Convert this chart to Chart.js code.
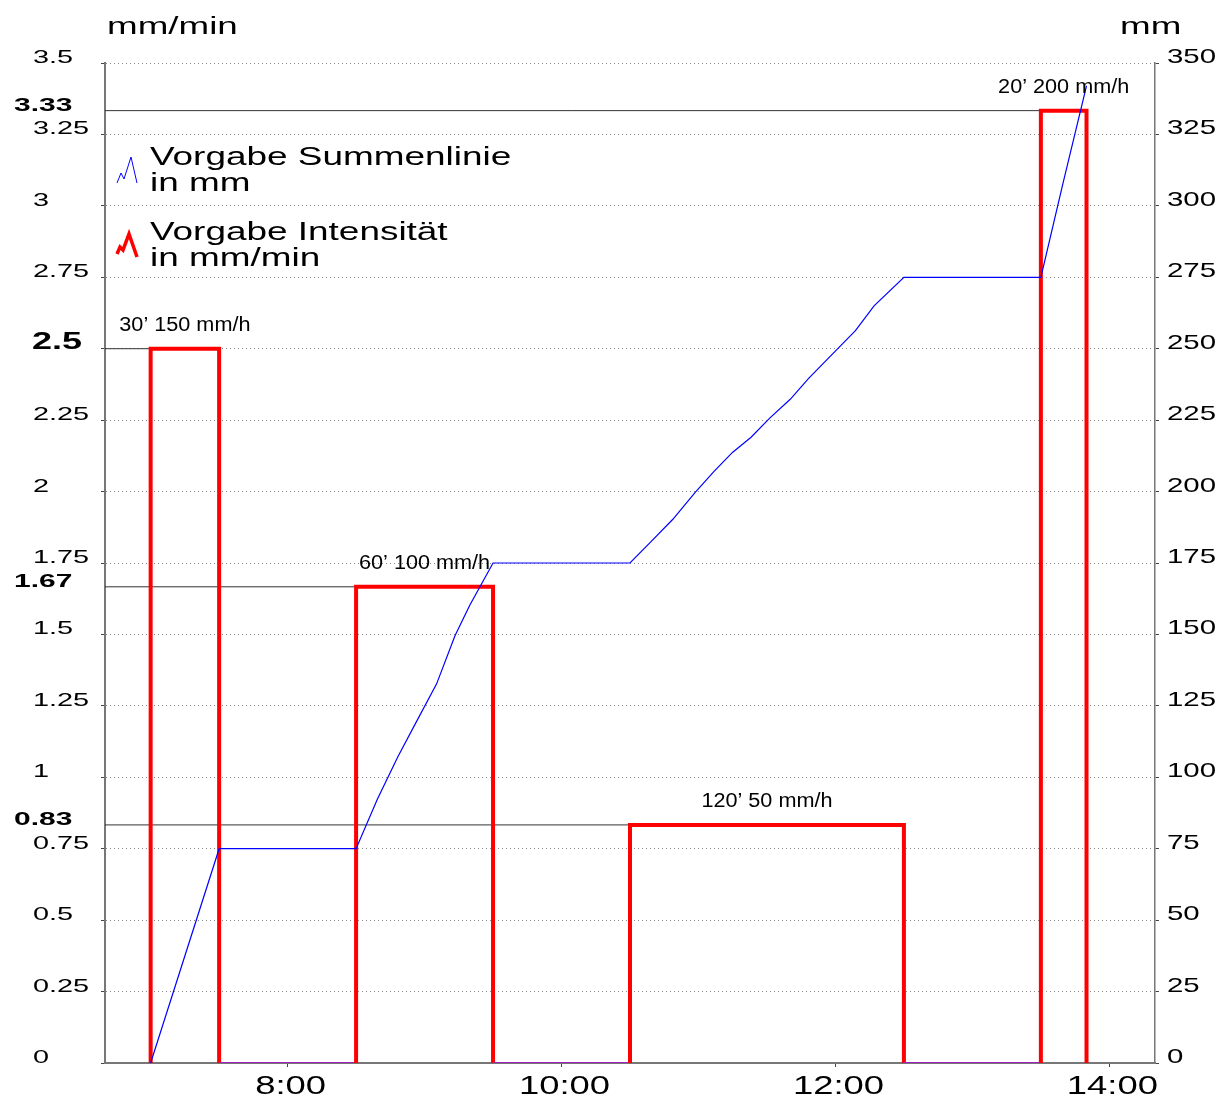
<!DOCTYPE html>
<html>
<head>
<meta charset="utf-8">
<script src="https://cdn.jsdelivr.net/npm/chart.js@4/dist/chart.umd.min.js"></script>
<style>
  html, body { margin: 0; padding: 0; background: #fff; }
  #wrap { width: 1228px; height: 1098px; }
</style>
</head>
<body>
<div id="wrap"><canvas id="c"></canvas></div>
<script>
// Rain program: blocks of constant intensity (mm/min) and cumulative sum (mm)
const blockStart = [7, 8.5, 10.5, 13.5];          // hours
const blockEnd = [7.5, 9.5, 12.5, 13.8333];
const blockLevel = [2.5, 1.6667, 0.8333, 3.3333]; // mm/min
const blockLabels = ['30\u2019 150 mm/h', '60\u2019 100 mm/h', '120\u2019 50 mm/h', '20\u2019 200 mm/h'];
const levelLabels = ['2.5', '1.67', '0.83', '3.33'];

// cumulative line
const sumTime = [7, 7.5, 8.5, 8.656, 8.805, 8.939, 9.088, 9.222, 9.33, 9.5,
  10.5, 10.65, 10.813, 10.976, 11.112, 11.248, 11.384, 11.52, 11.67, 11.806, 12.01, 12.146, 12.282, 12.5,
  13.5, 13.657, 13.8333];
const sumMm = [0, 75, 75, 92.4, 107.2, 119.3, 132.7, 149.5, 160.2, 175,
  175, 182.3, 190.3, 199.7, 207, 213.7, 219, 225.7, 232.3, 239.7, 249.7, 256.3, 265, 275,
  275, 307, 342];

const xTicks = [8, 10, 12, 14];
const xMin = 6 + 40 / 60, xMax = 14 + 20 / 60;

const FONT = '"Liberation Sans", Arial, sans-serif';

// step line for the intensity
const stepData = [];
blockStart.forEach((s, i) => {
  stepData.push({x: s, y: 0}, {x: s, y: blockLevel[i]}, {x: blockEnd[i], y: blockLevel[i]}, {x: blockEnd[i], y: 0});
});

const refSets = blockLevel.map((lv, i) => ({
  data: [{x: xMin, y: lv}, {x: blockStart[i], y: lv}],
  yAxisID: 'yL',
  borderColor: '#333',
  borderWidth: 1,
  pointRadius: 0,
  order: 2
}));

function drawText(ctx, text, x, y, size, sx, align, bold) {
  ctx.save();
  ctx.font = (bold ? 'bold ' : '') + size + 'px ' + FONT;
  ctx.textAlign = 'left';
  ctx.textBaseline = 'alphabetic';
  ctx.fillStyle = '#000';
  const w = ctx.measureText(text).width * sx;
  let x0 = x;
  if (align === 'center') x0 = x - w / 2;
  else if (align === 'right') x0 = x - w;
  ctx.translate(x0, y);
  ctx.scale(sx, 1);
  ctx.fillText(text, 0, 0);
  ctx.restore();
}

function polyline(ctx, pts, color, width) {
  ctx.save();
  ctx.strokeStyle = color;
  ctx.lineWidth = width;
  ctx.beginPath();
  pts.forEach((p, i) => i ? ctx.lineTo(p[0], p[1]) : ctx.moveTo(p[0], p[1]));
  ctx.stroke();
  ctx.restore();
}

const textPlugin = {
  id: 'texts',
  afterDraw(chart) {
    const {ctx, scales} = chart;
    const x = scales.x, yL = scales.yL, yR = scales.yR;

    // axis titles
    drawText(ctx, 'mm/min', 107, 34, 23, 1.6, 'left');
    drawText(ctx, 'mm', 1120, 34, 23, 1.6, 'left');

    // tick labels (the bold level labels replace a matching tick)
    yL.ticks.forEach(t => {
      const s = String(t.value);
      if (levelLabels.includes(s)) return;
      drawText(ctx, s, 33, yL.getPixelForValue(t.value), 18.5, 1.56, 'left');
    });
    yR.ticks.forEach(t => {
      drawText(ctx, String(t.value), 1167, yR.getPixelForValue(t.value), 21, 1.4, 'left');
    });
    x.ticks.forEach(t => {
      drawText(ctx, t.value + ':00', x.getPixelForValue(t.value) + 3, 1094, 26, 1.4, 'center');
    });

    // bold level labels and block annotations
    blockLevel.forEach((lv, i) => {
      const big = levelLabels[i] === '2.5';
      drawText(ctx, levelLabels[i], big ? 32 : 14, yL.getPixelForValue(lv), big ? 24 : 18.5, big ? 1.5 : 1.62, 'left', true);
      const cx = (x.getPixelForValue(blockStart[i]) + x.getPixelForValue(blockEnd[i])) / 2;
      drawText(ctx, blockLabels[i], cx, yL.getPixelForValue(lv) - 18, 19.5, 1.11, 'center');
    });

    // legend
    polyline(ctx, [[117, 183], [121, 173], [124, 179], [131, 157], [137, 183]], '#0000ff', 1);
    drawText(ctx, 'Vorgabe Summenlinie', 150, 165, 26, 1.42, 'left');
    drawText(ctx, 'in mm', 150, 191, 26, 1.42, 'left');
    polyline(ctx, [[117, 254], [120, 247], [123, 250], [129, 234], [137, 257]], '#ff0000', 3.5);
    drawText(ctx, 'Vorgabe Intensit\u00e4t', 150, 240, 26, 1.42, 'left');
    drawText(ctx, 'in mm/min', 150, 266, 26, 1.42, 'left');
  }
};

new Chart(document.getElementById('c'), {
  type: 'line',
  data: {
    datasets: [
      ...refSets,
      {
        label: 'Vorgabe Intensität in mm/min',
        data: stepData,
        yAxisID: 'yL',
        borderColor: '#ff0000',
        borderWidth: 4,
        pointRadius: 0,
        borderJoinStyle: 'miter',
        segment: {
          borderColor: c => (c.p0.parsed.y === 0 && c.p1.parsed.y === 0) ? '#a020c0' : undefined,
          borderWidth: c => (c.p0.parsed.y === 0 && c.p1.parsed.y === 0) ? 2 : undefined
        },
        order: 1
      },
      {
        label: 'Vorgabe Summenlinie in mm',
        data: sumTime.map((t, i) => ({x: t, y: sumMm[i]})),
        yAxisID: 'yR',
        borderColor: '#0000ff',
        borderWidth: 1.2,
        pointRadius: 0,
        tension: 0,
        order: 0
      }
    ]
  },
  options: {
    responsive: true,
    maintainAspectRatio: false,
    animation: false,
    events: [],
    layout: { padding: { top: 63, left: 0, right: 0, bottom: 0 } },
    plugins: { legend: { display: false }, tooltip: { enabled: false } },
    scales: {
      x: {
        type: 'linear',
        min: xMin,
        max: xMax,
        afterBuildTicks: s => { s.ticks = xTicks.map(v => ({value: v})); },
        afterFit: s => { s.height = 35; },
        ticks: { display: false },
        grid: { drawOnChartArea: false, tickLength: 4, tickColor: '#444', tickWidth: 1 },
        border: { color: '#777', width: 2 }
      },
      yL: {
        position: 'left',
        min: 0,
        max: 3.5,
        afterBuildTicks: s => {
          const t = [];
          for (let i = 0; i <= 14; i++) t.push({value: i * 0.25});
          s.ticks = t;
        },
        afterFit: s => { s.width = 105; },
        ticks: { display: false },
        grid: { color: '#8a8a8a', lineWidth: 1, tickLength: 4, tickColor: '#444', tickBorderDash: [] },
        border: { color: '#777', width: 2, dash: [1, 3] }
      },
      yR: {
        position: 'right',
        min: 0,
        max: 350,
        afterBuildTicks: s => {
          const t = [];
          for (let i = 0; i <= 14; i++) t.push({value: i * 25});
          s.ticks = t;
        },
        afterFit: s => { s.width = 73; },
        ticks: { display: false },
        grid: { drawOnChartArea: false, tickLength: 4, tickColor: '#444' },
        border: { color: '#777', width: 1.5 }
      }
    }
  },
  plugins: [textPlugin]
});
</script>
</body>
</html>
